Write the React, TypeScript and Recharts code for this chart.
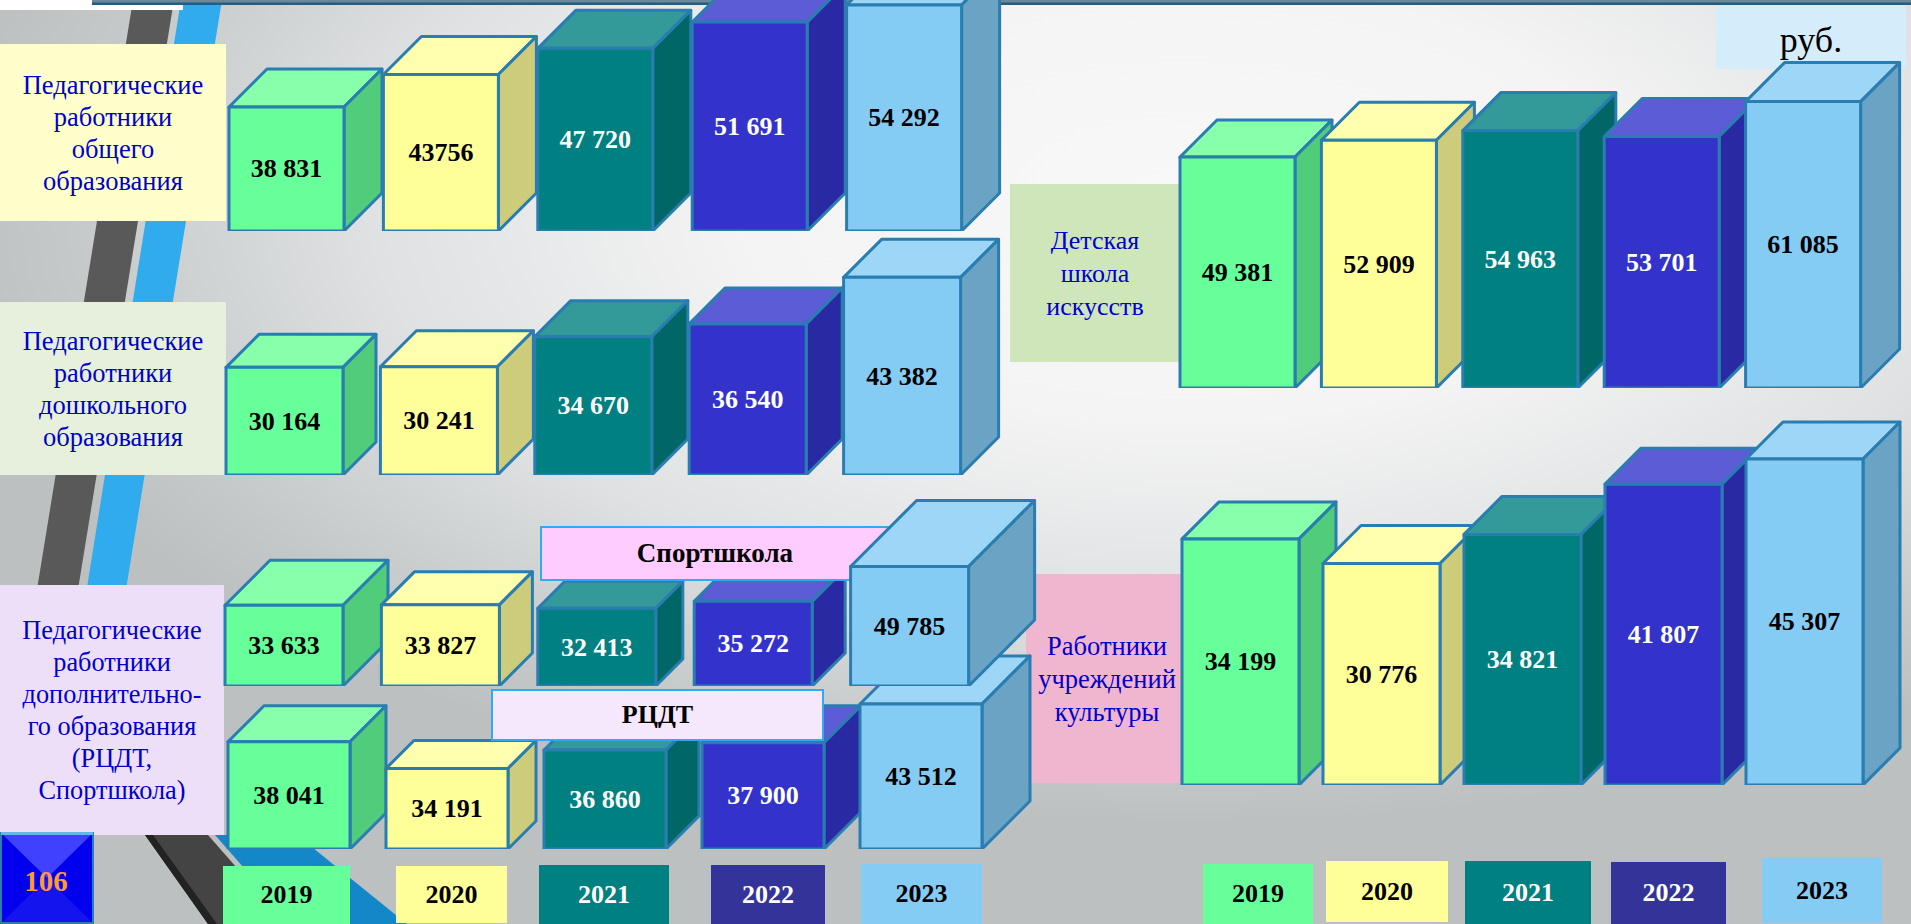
import * as React from "react";
import { BarChart, Bar, XAxis, YAxis } from "recharts";

const years = ["2019", "2020", "2021", "2022", "2023"];

const generalEducation = [38831, 43756, 47720, 51691, 54292];
const preschool = [30164, 30241, 34670, 36540, 43382];
const sportSchool = [33633, 33827, 32413, 35272, 49785];
const creativityCentre = [38041, 34191, 36860, 37900, 43512];
const artSchool = [49381, 52909, 54963, 53701, 61085];
const culture = [34199, 30776, 34821, 41807, 45307];

// one value is printed without the thousands gap on the slide
const generalEducationLabels = ["38 831", "43756", "47 720", "51 691", "54 292"];

const FONT = "'Liberation Serif', 'Times New Roman', serif";
const EDGE = "#2A7DB0";

const fronts = ["#66FF99", "#FFFF99", "#008080", "#3333CC", "#85CCF5"];
const tops = ["#88FFAA", "#FFFFAD", "#339999", "#5C5CD6", "#9DD6F7"];
const sides = ["#50CC7A", "#CCCC7A", "#006666", "#2929A3", "#6AA3C4"];
const inks = ["#000", "#000", "#fff", "#fff", "#000"];

const formatValue = (v: number) => {
  const s = String(v);
  return s.slice(0, -3) + " " + s.slice(-3);
};

interface GroupProps {
  values: number[];
  labels?: string[];
  left: number;
  baseline: number;
  width: number;
  plotHeight: number;
  barSize: number;
  domain: [number, number];
  depths: number[];
  only?: number[];
}

// hand drawn boxes on the slide, so every group has its own fitted value axis
function BoxGroup({ values, labels, left, baseline, width, plotHeight, barSize, domain, depths, only }: GroupProps) {
  const headroom = 75;
  const rightRoom = 75;
  const rows = years.map((year, i) => ({
    year,
    value: values[i],
    label: labels ? labels[i] : formatValue(values[i]),
  }));

  const renderBox = (props: any) => {
    const { x, y, width: w, height: h, index } = props;
    if (only && !only.includes(index)) return <g />;
    const d = depths[index];
    return (
      <g stroke={EDGE} strokeWidth={3} strokeLinejoin="round">
        <polygon
          points={`${x},${y} ${x + d},${y - d} ${x + w + d},${y - d} ${x + w},${y}`}
          fill={tops[index]}
        />
        <polygon
          points={`${x + w},${y} ${x + w + d},${y - d} ${x + w + d},${y + h - d} ${x + w},${y + h}`}
          fill={sides[index]}
        />
        <rect x={x} y={y} width={w} height={h} fill={fronts[index]} />
        <text
          x={x + w / 2}
          y={y + h / 2}
          textAnchor="middle"
          dominantBaseline="central"
          stroke="none"
          fill={inks[index]}
          fontFamily={FONT}
          fontWeight="bold"
          fontSize={26}
        >
          {props.payload.label}
        </text>
      </g>
    );
  };

  return (
    <div style={{ position: "absolute", left, top: baseline - plotHeight - headroom }}>
      <BarChart
        width={width + rightRoom}
        height={plotHeight + headroom}
        data={rows}
        margin={{ top: headroom, right: rightRoom, bottom: 0, left: 0 }}
        barSize={barSize}
      >
        <XAxis dataKey="year" hide />
        <YAxis hide domain={domain} allowDataOverflow={false} />
        <Bar dataKey="value" isAnimationActive={false} shape={renderBox} />
      </BarChart>
    </div>
  );
}

function Panel({ left, top, width, height, fill, lines, size = 26.5, leading = 32 }: any) {
  return (
    <div
      style={{
        position: "absolute",
        left,
        top,
        width,
        height,
        paddingTop: 1,
        boxSizing: "border-box",
        background: fill,
        display: "flex",
        flexDirection: "column",
        justifyContent: "center",
        alignItems: "center",
        fontFamily: FONT,
        fontSize: size,
        lineHeight: `${leading}px`,
        color: "#0000CC",
        textAlign: "center",
        whiteSpace: "nowrap",
      }}
    >
      {lines.map((line: string) => (
        <div key={line}>{line}</div>
      ))}
    </div>
  );
}

function Tag({ left, top, width, height, fill, text, size = 27 }: any) {
  return (
    <div
      style={{
        position: "absolute",
        left,
        top,
        width,
        height,
        boxSizing: "border-box",
        background: fill,
        border: "2px solid #33AAEE",
        display: "flex",
        alignItems: "center",
        justifyContent: "center",
        fontFamily: FONT,
        fontWeight: "bold",
        fontSize: size,
        color: "#000",
      }}
    >
      {text}
    </div>
  );
}

function YearKey({ boxes }: { boxes: number[][] }) {
  return (
    <>
      {years.map((year, i) => {
        const [left, top, width, height] = boxes[i];
        return (
          <div
            key={year}
            style={{
              position: "absolute",
              left,
              top,
              width,
              height,
              background: i === 3 ? "#333399" : fronts[i],
              color: inks[i],
              display: "flex",
              alignItems: "center",
              justifyContent: "center",
              fontFamily: FONT,
              fontWeight: "bold",
              fontSize: 26,
            }}
          >
            {year}
          </div>
        );
      })}
    </>
  );
}

function Backdrop() {
  return (
    <svg width={1911} height={924} style={{ position: "absolute", left: 0, top: 0 }}>
      <polygon points="133,0 174,0 60,700 19,700" fill="#595959" />
      <polygon points="181,0 222,0 108,700 69,700" fill="#2FABEE" />
      <polygon points="145,835 208,835 286,924 208,924" fill="#444" />
      <polygon points="145,835 153,835 217,924 208,924" fill="#222" />
      <polygon points="215,835 297,835 407,924 293,924" fill="#1487C8" />
      <rect x={0} y={0} width={183} height={10} fill="#fff" />
      <rect x={92} y={0} width={1819} height={5} fill="#1F5F84" />
      <rect x={92} y={0} width={1819} height={2.5} fill="#6E8796" />
    </svg>
  );
}

function PageBadge() {
  return (
    <svg width={94} height={92} style={{ position: "absolute", left: 0, top: 832 }}>
      <rect x={1} y={1} width={92} height={90} fill="#0000EE" stroke="#2A7DB0" strokeWidth={2} />
      <polygon points="2,2 92,2 47,46" fill="#4040FF" />
      <polygon points="2,90 92,90 47,46" fill="#1414EE" />
      <rect x={1} y={0} width={92} height={3} fill="#5FB8EE" />
      <text
        x={46}
        y={49}
        textAnchor="middle"
        dominantBaseline="central"
        fill="#FF9933"
        fontFamily={FONT}
        fontWeight="bold"
        fontSize={29}
      >
        106
      </text>
    </svg>
  );
}

export default function App() {
  return (
    <div
      style={{
        position: "fixed",
        left: 0,
        top: 0,
        width: 1911,
        height: 924,
        overflow: "hidden",
        background:
          "radial-gradient(ellipse 1250px 620px at 62% 22%, #f8f8f8 0%, #f4f4f4 35%, #dfe1e2 65%, #c4c8c9 90%, #bcc0c1 100%)",
        backgroundColor: "#bcc0c1",
      }}
    >
      <Backdrop />

      <Panel left={0} top={44} width={226} height={177} fill="#FFFFCC" lines={["Педагогические", "работники", "общего", "образования"]} />
      <Panel left={0} top={302} width={226} height={173} fill="#E6F0DC" lines={["Педагогические", "работники", "дошкольного", "образования"]} />
      <Panel left={0} top={585} width={224} height={250} fill="#EDDFF8" size={26.3} lines={["Педагогические", "работники", "дополнительно-", "го образования", "(РЦДТ,", "Спортшкола)"]} />
      <Panel left={1010} top={184} width={170} height={178} fill="#CFE6BA" size={26} leading={33} lines={["Детская", "школа", "искусств"]} />
      <Panel left={1026} top={574} width={162} height={209} fill="#F0B5CF" size={26.5} leading={33} lines={["Работники", "учреждений", "культуры"]} />

      <div
        style={{
          position: "absolute",
          left: 1716,
          top: 5,
          width: 190,
          height: 64,
          background: "#D5ECFA",
          fontFamily: FONT,
          fontSize: 36,
          textAlign: "center",
          lineHeight: "70px",
          color: "#000",
        }}
      >
        руб.
      </div>

      <BoxGroup values={generalEducation} labels={generalEducationLabels} left={209} baseline={231} width={772} plotHeight={231} barSize={115} domain={[20043, 55043]} depths={[38, 38, 38, 38, 38]} />
      <BoxGroup values={preschool} left={207} baseline={475} width={772} plotHeight={200} barSize={117} domain={[14353, 43722]} depths={[33, 36, 36, 36, 38]} />
      <BoxGroup values={creativityCentre} left={210} baseline={849} width={790} plotHeight={160} barSize={122} domain={[22552, 45673]} depths={[36, 28, 33, 37, 48]} />
      <Tag left={491} top={689} width={333} height={52} fill="#F5E8FD" text="РЦДТ" size={26} />
      <BoxGroup values={sportSchool} left={206} baseline={686} width={782} plotHeight={140} barSize={118} domain={[1, 58333]} depths={[45, 33, 27, 33, 66]} only={[0, 1, 2, 3]} />
      <Tag left={540} top={526} width={350} height={55} fill="#FFCCFF" text="Спортшкола" />
      <BoxGroup values={sportSchool} left={206} baseline={686} width={782} plotHeight={140} barSize={118} domain={[1, 58333]} depths={[45, 33, 27, 33, 66]} only={[4]} />

      <BoxGroup values={artSchool} left={1167} baseline={388} width={707} plotHeight={300} barSize={115} domain={[596, 63954]} depths={[37, 38, 38, 38, 39]} />
      <BoxGroup values={culture} left={1170} baseline={785} width={705} plotHeight={350} barSize={117} domain={[1, 48638]} depths={[37, 38, 38, 36, 37]} />

      <YearKey boxes={[[223, 866, 127, 58], [396, 866, 111, 57], [539, 865, 130, 59], [711, 865, 114, 59], [861, 864, 121, 60]]} />
      <YearKey boxes={[[1203, 864, 110, 60], [1326, 861, 122, 61], [1465, 861, 126, 63], [1611, 862, 115, 62], [1762, 858, 120, 65]]} />

      <PageBadge />
    </div>
  );
}
